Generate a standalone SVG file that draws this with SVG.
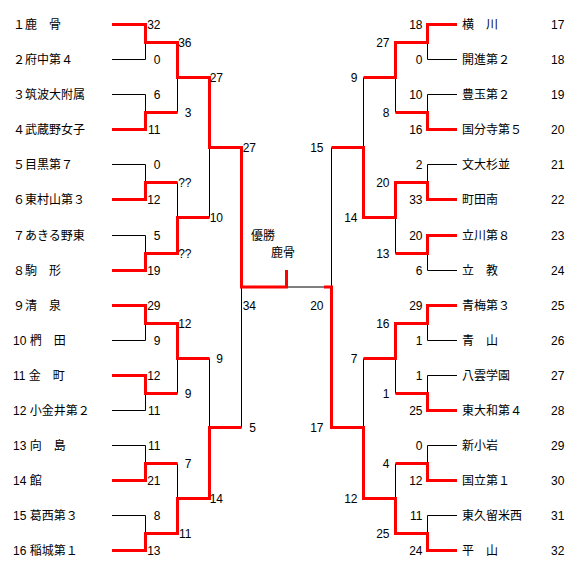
<svg xmlns="http://www.w3.org/2000/svg" width="586" height="584" viewBox="0 0 586 584">
<style>
text{font-family:"Liberation Sans","Noto Sans CJK JP",sans-serif;font-size:12px;fill:#000}
.e{text-anchor:end}
.k{fill:none;stroke:#000;stroke-width:1}
.r{fill:none;stroke:#f00;stroke-width:3;stroke-linejoin:miter}
</style>
<rect width="586" height="584" fill="#fff"/>
<g id="connectors">
<path class="k" d="M112 24.5H145.5M112 59.5H145.5M112 94.5H145.5M112 129.5H145.5M112 164.5H145.5M112 199.5H145.5M112 235.5H145.5M112 270.5H145.5M112 305.5H145.5M112 340.5H145.5M112 375.5H145.5M112 410.5H145.5M112 445.5H145.5M112 480.5H145.5M112 515.5H145.5M112 550.5H145.5
M145.5 24.5V59.5M145.5 94.5V129.5M145.5 164.5V199.5M145.5 235.5V270.5M145.5 305.5V340.5M145.5 375.5V410.5M145.5 445.5V480.5M145.5 515.5V550.5
M177.5 42.5V112.5M177.5 182.5V253.5M177.5 323.5V393.5M177.5 463.5V533.5
M209.5 77.5V217.5M209.5 358.5V498.5
M241.5 147.5V427.5M241.5 287H331.5"/>
<path class="k" d="M427.5 24.5H457M427.5 59.5H457M427.5 94.5H457M427.5 129.5H457M427.5 164.5H457M427.5 199.5H457M427.5 235.5H457M427.5 270.5H457M427.5 305.5H457M427.5 340.5H457M427.5 375.5H457M427.5 410.5H457M427.5 445.5H457M427.5 480.5H457M427.5 515.5H457M427.5 550.5H457
M427.5 24.5V59.5M427.5 94.5V129.5M427.5 164.5V199.5M427.5 235.5V270.5M427.5 305.5V340.5M427.5 375.5V410.5M427.5 445.5V480.5M427.5 515.5V550.5
M395.5 42.5V112.5M395.5 182.5V253.5M395.5 323.5V393.5M395.5 463.5V533.5
M363.5 77.5V217.5M363.5 358.5V498.5
M331.5 147.5V427.5"/>
<path class="r" d="M112 24.5H145.5V42.5H177.5V77.5H209.5V147.5H241.5V287H286.5V270"/>
<path class="r" d="M112 129.5H145.5V112.5H177.5"/>
<path class="r" d="M112 199.5H145.5V182.5H177.5"/>
<path class="r" d="M112 270.5H145.5V253.5H177.5V217.5H209.5"/>
<path class="r" d="M112 305.5H145.5V323.5H177.5V358.5H209.5"/>
<path class="r" d="M112 375.5H145.5V393.5H177.5"/>
<path class="r" d="M112 480.5H145.5V463.5H177.5"/>
<path class="r" d="M112 550.5H145.5V533.5H177.5V498.5H209.5V427.5H241.5"/>
<path class="r" d="M457 24.5H427.5V42.5H395.5V77.5H363.5"/>
<path class="r" d="M457 129.5H427.5V112.5H395.5"/>
<path class="r" d="M457 199.5H427.5V182.5H395.5V217.5H363.5V147.5H331.5"/>
<path class="r" d="M457 235.5H427.5V253.5H395.5"/>
<path class="r" d="M457 305.5H427.5V323.5H395.5V358.5H363.5"/>
<path class="r" d="M457 410.5H427.5V393.5H395.5"/>
<path class="r" d="M457 480.5H427.5V463.5H395.5"/>
<path class="r" d="M457 550.5H427.5V533.5H395.5V498.5H363.5V427.5H331.5V287H324"/>
</g>
<g id="team-1"><text x="13" y="29">１鹿　骨</text></g>
<g id="team-2"><text x="13" y="64">２府中第４</text></g>
<g id="team-3"><text x="13" y="99">３筑波大附属</text></g>
<g id="team-4"><text x="13" y="134">４武蔵野女子</text></g>
<g id="team-5"><text x="13" y="169">５目黒第７</text></g>
<g id="team-6"><text x="13" y="204">６東村山第３</text></g>
<g id="team-7"><text x="13" y="240">７あきる野東</text></g>
<g id="team-8"><text x="13" y="275">８駒　形</text></g>
<g id="team-9"><text x="13" y="310">９清　泉</text></g>
<g id="team-10"><text x="13" y="345">10 椚　田</text></g>
<g id="team-11"><text x="13" y="380">11 金　町</text></g>
<g id="team-12"><text x="13" y="415">12 小金井第２</text></g>
<g id="team-13"><text x="13" y="450">13 向　島</text></g>
<g id="team-14"><text x="13" y="485">14 館</text></g>
<g id="team-15"><text x="13" y="520">15 葛西第３</text></g>
<g id="team-16"><text x="13" y="555">16 稲城第１</text></g>
<g id="team-17"><text x="462" y="29">横　川</text><text x="551" y="29">17</text></g>
<g id="team-18"><text x="462" y="64">開進第２</text><text x="551" y="64">18</text></g>
<g id="team-19"><text x="462" y="99">豊玉第２</text><text x="551" y="99">19</text></g>
<g id="team-20"><text x="462" y="134">国分寺第５</text><text x="551" y="134">20</text></g>
<g id="team-21"><text x="462" y="169">文大杉並</text><text x="551" y="169">21</text></g>
<g id="team-22"><text x="462" y="204">町田南</text><text x="551" y="204">22</text></g>
<g id="team-23"><text x="462" y="240">立川第８</text><text x="551" y="240">23</text></g>
<g id="team-24"><text x="462" y="275">立　教</text><text x="551" y="275">24</text></g>
<g id="team-25"><text x="462" y="310">青梅第３</text><text x="551" y="310">25</text></g>
<g id="team-26"><text x="462" y="345">青　山</text><text x="551" y="345">26</text></g>
<g id="team-27"><text x="462" y="380">八雲学園</text><text x="551" y="380">27</text></g>
<g id="team-28"><text x="462" y="415">東大和第４</text><text x="551" y="415">28</text></g>
<g id="team-29"><text x="462" y="450">新小岩</text><text x="551" y="450">29</text></g>
<g id="team-30"><text x="462" y="485">国立第１</text><text x="551" y="485">30</text></g>
<g id="team-31"><text x="462" y="520">東久留米西</text><text x="551" y="520">31</text></g>
<g id="team-32"><text x="462" y="555">平　山</text><text x="551" y="555">32</text></g>
<g id="scores-left" class="e">
<text class="e" x="160.5" y="29">32</text><text class="e" x="160.5" y="64">0</text><text class="e" x="160.5" y="99">6</text><text class="e" x="160.5" y="134">11</text>
<text class="e" x="160.5" y="169">0</text><text class="e" x="160.5" y="204">12</text><text class="e" x="160.5" y="240">5</text><text class="e" x="160.5" y="275">19</text>
<text class="e" x="160.5" y="310">29</text><text class="e" x="160.5" y="345">9</text><text class="e" x="160.5" y="380">12</text><text class="e" x="160.5" y="415">11</text>
<text class="e" x="160.5" y="450">11</text><text class="e" x="160.5" y="485">21</text><text class="e" x="160.5" y="520">8</text><text class="e" x="160.5" y="555">13</text>
<text class="e" x="191.5" y="47">36</text><text class="e" x="191.5" y="117">3</text><text class="e" x="191.5" y="187">??</text><text class="e" x="191.5" y="258">??</text>
<text class="e" x="191.5" y="328">12</text><text class="e" x="191.5" y="398">9</text><text class="e" x="191.5" y="468">7</text><text class="e" x="191.5" y="538">11</text>
<text class="e" x="223" y="82">27</text><text class="e" x="223" y="222">10</text><text class="e" x="223" y="363">9</text><text class="e" x="223" y="503">14</text>
<text class="e" x="256" y="152">27</text><text class="e" x="256" y="432">5</text>
<text class="e" x="256" y="310">34</text>
</g>
<g id="scores-right">
<text class="e" x="422.5" y="29">18</text><text class="e" x="422.5" y="64">0</text><text class="e" x="422.5" y="99">10</text><text class="e" x="422.5" y="134">16</text>
<text class="e" x="422.5" y="169">2</text><text class="e" x="422.5" y="204">33</text><text class="e" x="422.5" y="240">20</text><text class="e" x="422.5" y="275">6</text>
<text class="e" x="422.5" y="310">29</text><text class="e" x="422.5" y="345">1</text><text class="e" x="422.5" y="380">1</text><text class="e" x="422.5" y="415">25</text>
<text class="e" x="422.5" y="450">0</text><text class="e" x="422.5" y="485">12</text><text class="e" x="422.5" y="520">11</text><text class="e" x="422.5" y="555">24</text>
<text class="e" x="389.5" y="47">27</text><text class="e" x="389.5" y="117">8</text><text class="e" x="389.5" y="187">20</text><text class="e" x="389.5" y="258">13</text>
<text class="e" x="389.5" y="328">16</text><text class="e" x="389.5" y="398">1</text><text class="e" x="389.5" y="468">4</text><text class="e" x="389.5" y="538">25</text>
<text class="e" x="357.5" y="82">9</text><text class="e" x="357.5" y="222">14</text><text class="e" x="357.5" y="363">7</text><text class="e" x="357.5" y="503">12</text>
<text class="e" x="323.5" y="152">15</text><text class="e" x="323.5" y="432">17</text>
<text class="e" x="323.5" y="310">20</text>
</g>
<g id="champion">
<text x="251" y="240">優勝</text>
<text x="271" y="257">鹿骨</text>
</g>
</svg>
